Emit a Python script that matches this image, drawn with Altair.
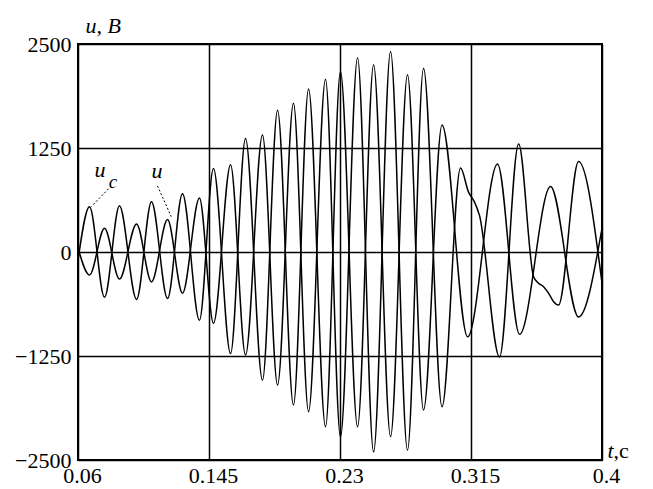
import altair as alt
import pandas as pd

# time (s) and voltage (V): extremes of each curve
t_uc = [0.0600, 0.0675, 0.0772, 0.0869, 0.0980, 0.1077, 0.1181, 0.1278, 0.1388, 0.1479,
        0.1590, 0.1687, 0.1797, 0.1895, 0.1998, 0.2096, 0.2206, 0.2303, 0.2414, 0.2518,
        0.2628, 0.2738, 0.2842, 0.2962, 0.3128, 0.3322, 0.3465, 0.3666, 0.3848, 0.4000]
u_c = [-100, 545, -545, 555, -570, 605, -560, 700, -820, 1005,
       -1220, 1365, -1540, 1705, -1840, 1960, -2100, 2170, -2100, 2250,
       -2220, 2130, -1900, 1525, -1020, 1058, -990, 786, -780, 285]

t_u = [0.0600, 0.0675, 0.0772, 0.0869, 0.0980, 0.1077, 0.1181, 0.1278, 0.1388, 0.1479,
       0.1590, 0.1687, 0.1797, 0.1895, 0.1998, 0.2096, 0.2206, 0.2303, 0.2414, 0.2518,
       0.2628, 0.2738, 0.2842, 0.2962, 0.3082, 0.3134, 0.3173, 0.3205, 0.3335, 0.3459,
       0.3556, 0.3588, 0.3621, 0.3653, 0.3686, 0.3718, 0.3848, 0.4000]
u = [50, -276, 286, -325, 337, -360, 390, -497, 650, -857,
     1050, -1238, 1406, -1598, 1787, -1919, 2075, -2222, 2334, -2403,
     2410, -2383, 2210, -1861, 1010, 720, 600, 440, -1262, 1298,
     -297, -375, -417, -495, -598, -638, 1087, -373]

x_ticks = [0.06, 0.145, 0.23, 0.315, 0.4]
y_ticks = [-2500, -1250, 0, 1250, 2500]

# annotation texts (placed in data units)
lab_italic_text = ["u, В", "u", "u", "t"]
lab_italic_t = [0.0649, 0.0707, 0.1077, 0.4036]
lab_italic_v = [2635, 903, 890, -2479]

lab_sub_text = ["c"]
lab_sub_t = [0.0800]
lab_sub_v = [770]

lab_norm_text = [",с"]
lab_norm_t = [0.4075]
lab_norm_v = [-2479]

lead_t1 = [0.0798, 0.1116]
lead_v1 = [760, 794]
lead_t2 = [0.0686, 0.1205]
lead_v2 = [545, 425]

FONT = "Liberation Serif"

df = pd.concat([
    pd.DataFrame({"t": t_uc, "u": u_c, "series": "u_c"}),
    pd.DataFrame({"t": t_u, "u": u, "series": "u"}),
], ignore_index=True)

xscale = alt.Scale(domain=[0.06, 0.4], nice=False, zero=False)
yscale = alt.Scale(domain=[-2500, 2500], nice=False, zero=False)

xaxis = alt.Axis(values=x_ticks, format=".3~f", grid=True, gridColor="black",
                 gridWidth=1.5, gridOpacity=1, ticks=False, domain=False,
                 labelFont=FONT, labelFontSize=22, labelColor="black",
                 labelPadding=5, labelFlush=False, labelOffset=4, title=None)
yaxis = alt.Axis(values=y_ticks, format="d", grid=True, gridColor="black",
                 gridWidth=1.5, gridOpacity=1, ticks=False, domain=False,
                 labelFont=FONT, labelFontSize=22, labelColor="black",
                 labelPadding=7, labelFlush=False, title=None)

X = alt.X("t:Q", scale=xscale, axis=xaxis)
Y = alt.Y("u:Q", scale=yscale, axis=yaxis)

lines = alt.Chart(df).mark_line(
    interpolate="monotone", color="black", strokeWidth=1.5, clip=True
).encode(x=X, y=Y, detail="series:N")

ital = alt.Chart(pd.DataFrame({"t": lab_italic_t, "u": lab_italic_v, "txt": lab_italic_text})).mark_text(
    font=FONT, fontStyle="italic", fontSize=22, align="left", baseline="alphabetic", color="black"
).encode(x=X, y=Y, text="txt:N")

sub = alt.Chart(pd.DataFrame({"t": lab_sub_t, "u": lab_sub_v, "txt": lab_sub_text})).mark_text(
    font=FONT, fontStyle="italic", fontSize=19, align="left", baseline="alphabetic", color="black"
).encode(x=X, y=Y, text="txt:N")

norm = alt.Chart(pd.DataFrame({"t": lab_norm_t, "u": lab_norm_v, "txt": lab_norm_text})).mark_text(
    font=FONT, fontSize=22, align="left", baseline="alphabetic", color="black"
).encode(x=X, y=Y, text="txt:N")

leads = alt.Chart(pd.DataFrame({"t": lead_t1, "u": lead_v1, "t2": lead_t2, "u2": lead_v2})).mark_rule(
    color="black", strokeWidth=1, strokeDash=[2, 2]
).encode(x=X, y=Y, x2="t2:Q", y2="u2:Q")

chart = alt.layer(lines, leads, ital, sub, norm).properties(
    width=524, height=416,
    autosize="none",
    padding={"left": 70, "top": 36, "right": 43, "bottom": 29},
    background="white",
).configure_view(stroke="black", strokeWidth=2)

chart.save("out.html", embed_options={"renderer": "svg", "actions": False})
